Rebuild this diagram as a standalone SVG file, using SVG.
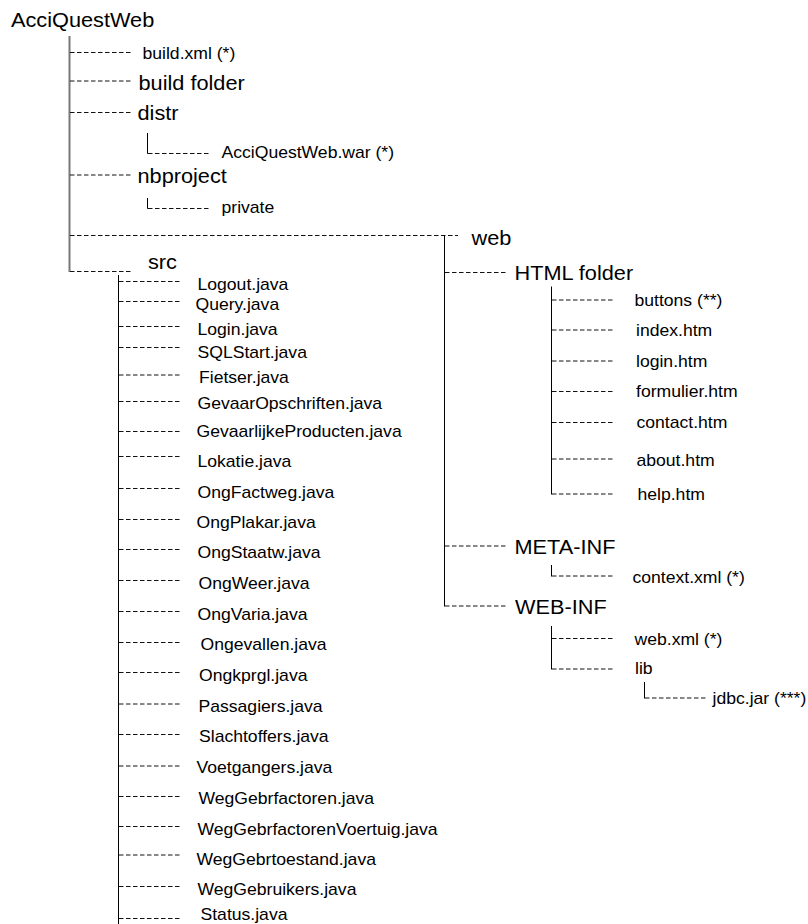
<svg xmlns="http://www.w3.org/2000/svg" width="808" height="924" viewBox="0 0 808 924">
<style>
text{font-family:"Liberation Sans",Arial,sans-serif;fill:#000}
.b{font-size:20.5px}
.s{font-size:16px}
.d{stroke:#111;stroke-width:1;stroke-dasharray:4.5 2.5;fill:none}
.v{stroke:#000;stroke-width:1;fill:none}
.t{stroke:#777;stroke-width:2;fill:none}
</style>
<rect width="808" height="924" fill="#fff"/>
<g id="connectors">
<line class="t" x1="69.5" y1="36" x2="69.5" y2="272"/>
<line class="d" x1="70" y1="52.5" x2="132" y2="52.5"/>
<line class="d" x1="70" y1="81" x2="132" y2="81"/>
<line class="d" x1="70" y1="112.5" x2="132" y2="112.5"/>
<line class="d" x1="70" y1="175" x2="132" y2="175"/>
<line class="d" x1="70" y1="235.5" x2="458" y2="235.5"/>
<line class="d" x1="70" y1="271.5" x2="132" y2="271.5"/>
<polyline class="v" points="147.5,133 147.5,153.5 148,153.5"/>
<line class="d" x1="148" y1="153.5" x2="210" y2="153.5"/>
<polyline class="v" points="147.5,198 147.5,208.5 148,208.5"/>
<line class="d" x1="148" y1="208.5" x2="210" y2="208.5"/>
<line class="v" x1="118.5" y1="275" x2="118.5" y2="924"/>
<g class="d">
<line x1="119" y1="281.5" x2="182" y2="281.5"/>
<line x1="119" y1="301.5" x2="182" y2="301.5"/>
<line x1="119" y1="326.5" x2="182" y2="326.5"/>
<line x1="119" y1="347.5" x2="182" y2="347.5"/>
<line x1="119" y1="375" x2="182" y2="375"/>
<line x1="119" y1="401.5" x2="182" y2="401.5"/>
<line x1="119" y1="431.5" x2="182" y2="431.5"/>
<line x1="119" y1="456.5" x2="182" y2="456.5"/>
<line x1="119" y1="488.5" x2="182" y2="488.5"/>
<line x1="119" y1="519.5" x2="182" y2="519.5"/>
<line x1="119" y1="549.5" x2="182" y2="549.5"/>
<line x1="119" y1="580.5" x2="182" y2="580.5"/>
<line x1="119" y1="611.5" x2="182" y2="611.5"/>
<line x1="119" y1="642.5" x2="182" y2="642.5"/>
<line x1="119" y1="672.5" x2="182" y2="672.5"/>
<line x1="119" y1="704" x2="182" y2="704"/>
<line x1="119" y1="734.5" x2="182" y2="734.5"/>
<line x1="119" y1="766" x2="182" y2="766"/>
<line x1="119" y1="796.5" x2="182" y2="796.5"/>
<line x1="119" y1="826.5" x2="182" y2="826.5"/>
<line x1="119" y1="855" x2="182" y2="855"/>
<line x1="119" y1="886.5" x2="182" y2="886.5"/>
<line x1="119" y1="918.5" x2="182" y2="918.5"/>
</g>
<line class="v" x1="444.5" y1="235" x2="444.5" y2="606.5"/>
<line class="d" x1="445" y1="272.5" x2="508" y2="272.5"/>
<line class="d" x1="445" y1="546" x2="508" y2="546"/>
<line class="d" x1="445" y1="606" x2="508" y2="606"/>
<line class="v" x1="551.5" y1="286.5" x2="551.5" y2="494.5"/>
<g class="d">
<line x1="552" y1="300" x2="613" y2="300"/>
<line x1="552" y1="330" x2="613" y2="330"/>
<line x1="552" y1="361" x2="613" y2="361"/>
<line x1="552" y1="391.5" x2="613" y2="391.5"/>
<line x1="552" y1="422.5" x2="613" y2="422.5"/>
<line x1="552" y1="459" x2="613" y2="459"/>
<line x1="552" y1="494" x2="613" y2="494"/>
</g>
<line class="v" x1="551.5" y1="565" x2="551.5" y2="576.5"/>
<line class="d" x1="552" y1="576" x2="613" y2="576"/>
<line class="v" x1="551.5" y1="626" x2="551.5" y2="669.5"/>
<line class="d" x1="552" y1="638.5" x2="613" y2="638.5"/>
<line class="d" x1="552" y1="669" x2="613" y2="669"/>
<line class="v" x1="644.5" y1="682" x2="644.5" y2="698.5"/>
<line class="d" x1="645" y1="698" x2="708" y2="698"/>
</g>
<g id="n-root"><text class="b" transform="translate(11,26.5) scale(1.06,1)">AcciQuestWeb</text></g>
<g id="n-buildxml"><text class="s" transform="translate(142.5,58.5) scale(1.1,1)">build.xml (*)</text></g>
<g id="n-buildfolder"><text class="b" transform="translate(138.5,90) scale(1.06,1)">build folder</text></g>
<g id="n-distr"><text class="b" transform="translate(137.5,119.5) scale(1.06,1)">distr</text></g>
<g id="n-war"><text class="s" transform="translate(221.5,158) scale(1.1,1)">AcciQuestWeb.war (*)</text></g>
<g id="n-nbproject"><text class="b" transform="translate(137.5,182.5) scale(1.06,1)">nbproject</text></g>
<g id="n-private"><text class="s" transform="translate(221.5,212.5) scale(1.1,1)">private</text></g>
<g id="n-web"><text class="b" transform="translate(471.5,244.5) scale(1.06,1)">web</text></g>
<g id="n-src"><text class="b" transform="translate(148,268.5) scale(1.06,1)">src</text></g>
<g id="n-src-files">
<text class="s" transform="translate(197.5,289.5) scale(1.1,1)">Logout.java</text>
<text class="s" transform="translate(195.5,309.5) scale(1.1,1)">Query.java</text>
<text class="s" transform="translate(197.5,335) scale(1.1,1)">Login.java</text>
<text class="s" transform="translate(197.5,357.5) scale(1.1,1)">SQLStart.java</text>
<text class="s" transform="translate(199,383) scale(1.1,1)">Fietser.java</text>
<text class="s" transform="translate(197.5,408.5) scale(1.1,1)">GevaarOpschriften.java</text>
<text class="s" transform="translate(196.5,437) scale(1.1,1)">GevaarlijkeProducten.java</text>
<text class="s" transform="translate(197.5,466.5) scale(1.1,1)">Lokatie.java</text>
<text class="s" transform="translate(197.5,497.5) scale(1.1,1)">OngFactweg.java</text>
<text class="s" transform="translate(196.5,527.5) scale(1.1,1)">OngPlakar.java</text>
<text class="s" transform="translate(197.5,558) scale(1.1,1)">OngStaatw.java</text>
<text class="s" transform="translate(198.5,588.5) scale(1.1,1)">OngWeer.java</text>
<text class="s" transform="translate(197.5,619.5) scale(1.1,1)">OngVaria.java</text>
<text class="s" transform="translate(200.5,650) scale(1.1,1)">Ongevallen.java</text>
<text class="s" transform="translate(199,680.5) scale(1.1,1)">Ongkprgl.java</text>
<text class="s" transform="translate(198.5,712) scale(1.1,1)">Passagiers.java</text>
<text class="s" transform="translate(199,742) scale(1.1,1)">Slachtoffers.java</text>
<text class="s" transform="translate(196.5,772.5) scale(1.1,1)">Voetgangers.java</text>
<text class="s" transform="translate(198.5,804) scale(1.1,1)">WegGebrfactoren.java</text>
<text class="s" transform="translate(197.5,835) scale(1.1,1)">WegGebrfactorenVoertuig.java</text>
<text class="s" transform="translate(196.5,864.5) scale(1.1,1)">WegGebrtoestand.java</text>
<text class="s" transform="translate(197.5,895) scale(1.1,1)">WegGebruikers.java</text>
<text class="s" transform="translate(200.5,920) scale(1.1,1)">Status.java</text>
</g>
<g id="n-html"><text class="b" transform="translate(514.5,279.5) scale(1.06,1)">HTML folder</text></g>
<g id="n-html-files">
<text class="s" transform="translate(634.5,305.5) scale(1.1,1)">buttons (**)</text>
<text class="s" transform="translate(636,336) scale(1.1,1)">index.htm</text>
<text class="s" transform="translate(636,366.5) scale(1.1,1)">login.htm</text>
<text class="s" transform="translate(636,397) scale(1.1,1)">formulier.htm</text>
<text class="s" transform="translate(636.5,428) scale(1.1,1)">contact.htm</text>
<text class="s" transform="translate(636.5,465.5) scale(1.1,1)">about.htm</text>
<text class="s" transform="translate(637.5,499.5) scale(1.1,1)">help.htm</text>
</g>
<g id="n-metainf"><text class="b" transform="translate(514.5,553.5) scale(1.06,1)">META-INF</text></g>
<g id="n-context"><text class="s" transform="translate(632.5,582.5) scale(1.1,1)">context.xml (*)</text></g>
<g id="n-webinf"><text class="b" transform="translate(515,614) scale(1.06,1)">WEB-INF</text></g>
<g id="n-webxml"><text class="s" transform="translate(634.5,645) scale(1.1,1)">web.xml (*)</text></g>
<g id="n-lib"><text class="s" transform="translate(635,674) scale(1.1,1)">lib</text></g>
<g id="n-jdbc"><text class="s" transform="translate(712.5,704) scale(1.1,1)">jdbc.jar (***)</text></g>
</svg>
